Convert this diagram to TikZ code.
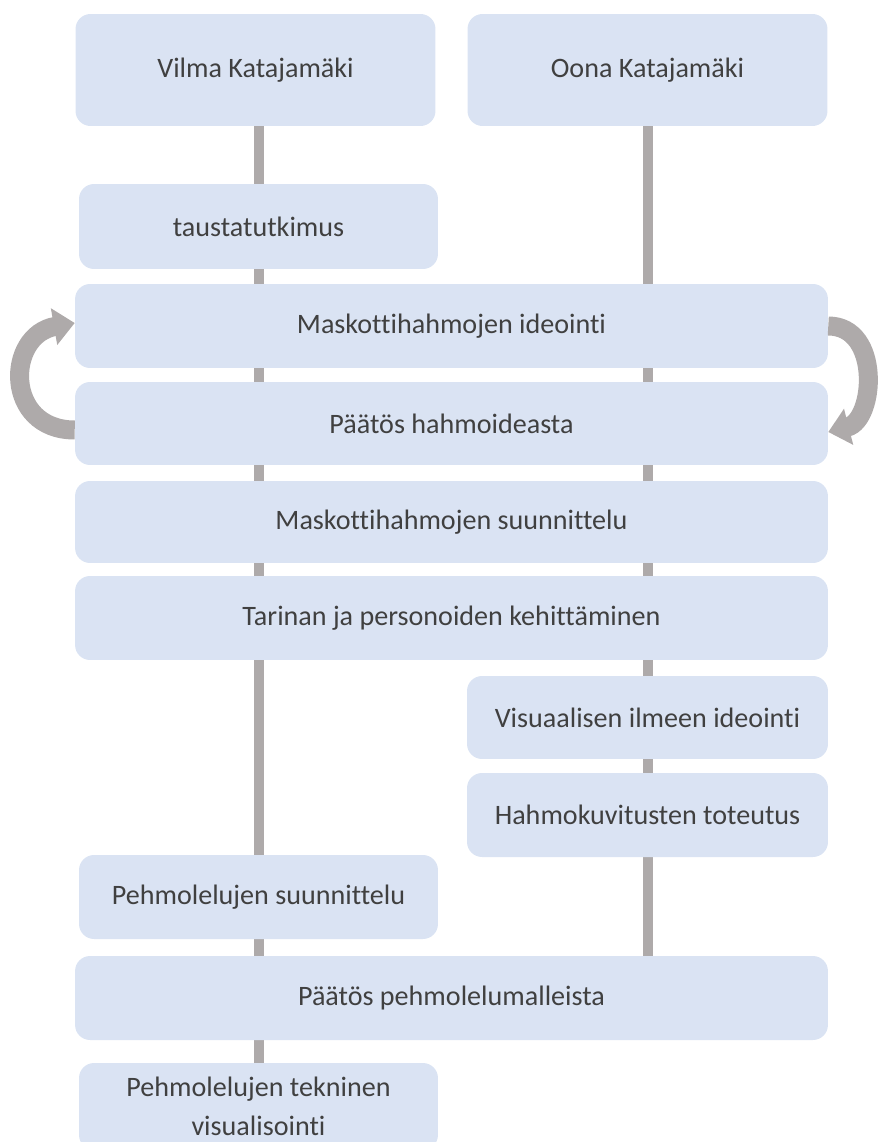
\documentclass[tikz,border=0pt]{standalone}
\usepackage{fontspec}
\setmainfont{Carlito}[RawFeature=-liga]
\usepackage{tikz}
\usetikzlibrary{arrows.meta,backgrounds}
\definecolor{boxblue}{HTML}{DAE3F3}
\definecolor{linegray}{HTML}{AEAAAA}
\definecolor{textgray}{HTML}{404040}

\begin{document}
\begin{tikzpicture}[x=0.02cm, y=-0.02cm,
  every node/.style={font=\fontsize{16}{22.5}\selectfont},
  box/.style={rectangle, rounded corners=0.3cm, fill=boxblue, text=textgray, align=center, inner sep=0pt},
  halfbox/.style={box, minimum width=7.2cm, minimum height=1.68cm},
  widebox/.style={box, minimum width=15.06cm, minimum height=1.68cm},
  track/.style={draw=linegray, line width=0.2cm},
  loopback/.style={draw=linegray, line width=0.38cm, -{Triangle[length=0.42cm,width=0.72cm]}}]

\useasboundingbox (0,0) rectangle (878,1142);

% Names
\node[halfbox, minimum height=2.24cm] at (255.5,70) (vilma) {Vilma Katajamäki};
\node[halfbox, minimum height=2.24cm] at (647.5,70) (oona) {Oona Katajamäki};

% Shared steps
\node[halfbox, minimum width=7.18cm, minimum height=1.7cm] at (258.5,226.5) (tausta) {taustatutkimus};
\node[widebox] at (451.5,326) (ideointi) {Maskottihahmojen ideointi};
\node[widebox, minimum height=1.66cm] at (451.5,423.5) (paatos) {Päätös hahmoideasta};
\node[widebox, minimum height=1.64cm] at (451.5,522) (suunnittelu) {Maskottihahmojen suunnittelu};
\node[widebox] at (451.5,618) (tarina) {Tarinan ja personoiden kehittäminen};

% Oona's branch
\node[halfbox, minimum width=7.22cm, minimum height=1.66cm] at (647.5,717.5) (visu) {Visuaalisen ilmeen ideointi};
\node[halfbox, minimum width=7.22cm] at (647.5,815) (kuvitus) {Hahmokuvitusten toteutus};

% Vilma's branch
\node[halfbox, minimum width=7.18cm] at (258.5,897) (pehmo) {Pehmolelujen suunnittelu};
\node[widebox] at (451.5,998) (mallit) {Päätös pehmolelumalleista};
\node[halfbox, minimum width=7.18cm, minimum height=1.74cm] at (258.5,1106.5) (tekn) {Pehmolelujen tekninen\\visualisointi};

% Timelines
\begin{scope}[on background layer]
\draw[track] (tausta.north |- vilma.south) -- (tekn.north);
\draw[track] (oona.south) -- (oona.south |- mallit.north);
\end{scope}

% Iteration arrows
\draw[loopback] ([yshift=-0.13cm]paatos.west) .. controls +(-71,0) and +(-69,12) .. ([yshift=0.06cm]ideointi.west);
\draw[loopback] (ideointi.east) .. controls +(53,0) and +(47,-12) .. ([yshift=-0.17cm]paatos.east);

\end{tikzpicture}
\end{document}
